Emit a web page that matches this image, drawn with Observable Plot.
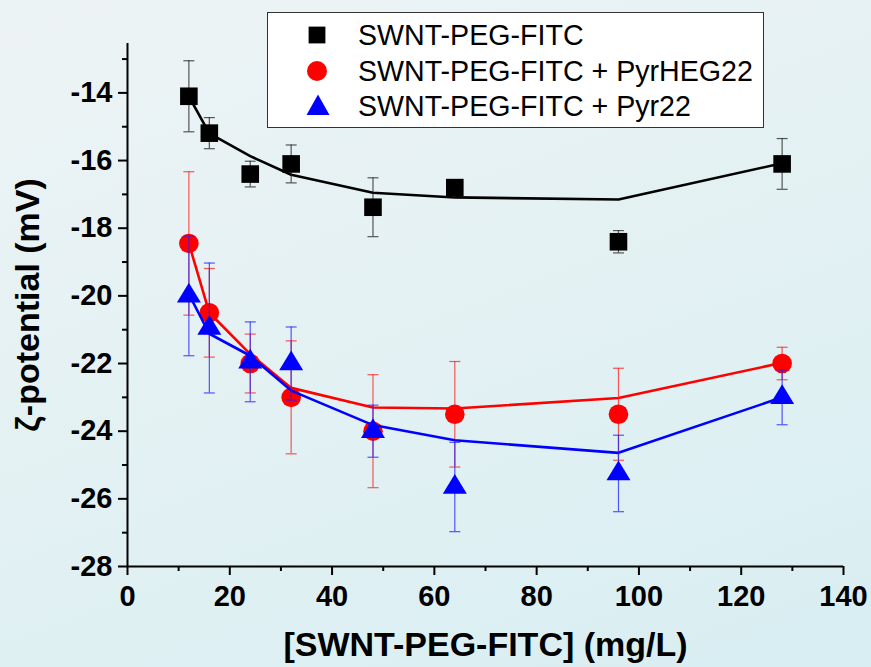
<!DOCTYPE html>
<html>
<head>
<meta charset="utf-8">
<script src="https://cdn.jsdelivr.net/npm/d3@7"></script>
<script src="https://cdn.jsdelivr.net/npm/@observablehq/plot@0.6"></script>
<style>
  html, body { margin: 0; padding: 0; }
  body { width: 871px; height: 667px; overflow: hidden;
    background: linear-gradient(160deg, #edf3f5 0%, #e3f1f3 50%, #d8eef2 100%);
    font-family: "Liberation Sans", Arial, sans-serif; }
  #wrap { position: relative; width: 871px; height: 667px; }
  #legend { position: absolute; left: 267px; top: 12px; width: 495px; height: 114px;
    background: #fff; border: 1px solid #333; box-sizing: content-box; }
  .row { position: absolute; left: 0; height: 36px; }
  .row svg { position: absolute; left: 37px; }
  .row span { position: absolute; left: 90px; white-space: nowrap; font-size: 28.6px; color: #000;
    font-family: "Liberation Sans", Arial, sans-serif; line-height: 36px; top: 0; }
  svg.plot { background: transparent; }
</style>
</head>
<body>
<div id="wrap"></div>
<script>
// ---- data ----
const conc = [12, 16, 24, 32, 48, 64, 96, 128];
const seriesNames = ["SWNT-PEG-FITC", "SWNT-PEG-FITC + PyrHEG22", "SWNT-PEG-FITC + Pyr22"];
const pegVal = [-14.1, -15.19, -16.4, -16.1, -17.38, -16.8, -18.4, -16.1];
const pegErr = [1.05, 0.46, 0.38, 0.56, 0.87, 0.2, 0.33, 0.75];
const pegFit = [-14.1, -15.2, -15.87, -16.42, -16.95, -17.09, -17.15, -16.08];
const hegVal = [-18.45, -20.5, -22.0, -23.0, -24.0, -23.5, -23.5, -22.0];
const hegErr = [2.12, 1.31, 0.87, 1.67, 1.67, 1.56, 1.36, 0.48];
const hegFit = [-18.45, -20.5, -21.72, -22.72, -23.3, -23.33, -23.02, -21.98];
const pyrVal = [-20.0, -20.95, -21.95, -22.0, -24.0, -25.65, -25.25, -23.0];
const pyrErr = [1.77, 1.92, 1.18, 1.08, 0.77, 1.32, 1.13, 0.81];
const pyrFit = [-19.95, -21.12, -21.77, -22.8, -23.82, -24.27, -24.64, -23.0];
const xMajor = [0, 20, 40, 60, 80, 100, 120, 140];
const xMinor = [10, 30, 50, 70, 90, 110, 130];
const yMajor = [-28, -26, -24, -22, -20, -18, -16, -14];
const yMinor = [-27, -25, -23, -21, -19, -17, -15, -13];
const xDomain = [0, 140];
const yDomain = [-28, -12.54];

const colors = ["#000000", "#ff0000", "#0000ff"];
const errColors = ["#222222", "#ff2020", "#2020ff"];

function build(vals, errs, fits) {
  return conc.map((c, i) => ({x: c, y: vals[i], lo: vals[i] - errs[i], hi: vals[i] + errs[i], fit: fits[i]}));
}
const sets = [build(pegVal, pegErr, pegFit), build(hegVal, hegErr, hegFit), build(pyrVal, pyrErr, pyrFit)];

// custom symbols
const capSym = { draw(ctx) { ctx.moveTo(-5.5, 0); ctx.lineTo(5.5, 0); } };
const squareSym = { draw(ctx) { const h = 8.8; ctx.moveTo(-h, -h); ctx.lineTo(h, -h); ctx.lineTo(h, h); ctx.lineTo(-h, h); ctx.closePath(); } };
const circleSym = { draw(ctx) { const r = 9.8; ctx.moveTo(r, 0); ctx.arc(0, 0, r, 0, 2 * Math.PI); } };
const triSym = { draw(ctx) { const w = 12, t = 13, b = 6.7; ctx.moveTo(0, -t); ctx.lineTo(w, b); ctx.lineTo(-w, b); ctx.closePath(); } };
const syms = [squareSym, circleSym, triSym];

const font = {fontFamily: "Liberation Sans, Arial, sans-serif"};

const marks = [];
sets.forEach((d, k) => {
  marks.push(Plot.line(d, {x: "x", y: "fit", stroke: colors[k], strokeWidth: 2.6}));
  marks.push(Plot.ruleX(d, {x: "x", y1: "lo", y2: "hi", stroke: errColors[k], strokeWidth: 1.2, strokeOpacity: 0.75}));
  marks.push(Plot.dot(d, {x: "x", y: "hi", symbol: capSym, stroke: errColors[k], strokeWidth: 1.2, strokeOpacity: 0.75, fill: "none"}));
  marks.push(Plot.dot(d, {x: "x", y: "lo", symbol: capSym, stroke: errColors[k], strokeWidth: 1.2, strokeOpacity: 0.75, fill: "none"}));
  marks.push(Plot.dot(d, {x: "x", y: "y", symbol: syms[k], fill: colors[k], stroke: "none"}));
});

const chart = Plot.plot({
  width: 871,
  height: 667,
  marginLeft: 127,
  marginRight: 28,
  marginTop: 43,
  marginBottom: 101,
  style: {background: "transparent", color: "#000", overflow: "visible"},
  x: {domain: xDomain},
  y: {domain: yDomain},
  marks: [
    Plot.axisX(xMajor, {tickSize: 9, tickPadding: 10, strokeWidth: 2, fontSize: 29, fontWeight: "bold", ...font, tickFormat: d => String(d), label: null}),
    Plot.axisX(xMinor, {tickSize: 5, strokeWidth: 2, tickFormat: () => "", label: null}),
    Plot.axisX([], {tickSize: 0, label: "[SWNT-PEG-FITC] (mg/L)", labelAnchor: "center", labelArrow: "none", labelOffset: 89, fontSize: 34, fontWeight: "bold", ...font}),
    Plot.axisY(yMajor, {tickSize: 9, tickPadding: 6, strokeWidth: 2, fontSize: 29, fontWeight: "bold", ...font, tickFormat: d => String(d), label: null}),
    Plot.axisY(yMinor, {tickSize: 5, strokeWidth: 2, tickFormat: () => "", label: null}),
    Plot.axisY([], {tickSize: 0, label: "ζ-potential (mV)", labelAnchor: "center", labelArrow: "none", labelOffset: 113, fontSize: 34, fontWeight: "bold", ...font}),
    Plot.ruleX([0], {stroke: "#000", strokeWidth: 2}),
    Plot.ruleY([-28], {stroke: "#000", strokeWidth: 2}),
    ...marks
  ]
});
document.getElementById("wrap").appendChild(chart);

// legend (HTML overlay)
const legend = document.createElement("div");
legend.id = "legend";
const rowTops = [4, 40, 75];
const legendSvgs = [
  '<svg width="24" height="24" viewBox="-12 -12 24 24"><rect x="-8.4" y="-8.4" width="16.8" height="16.8" fill="#000"/></svg>',
  '<svg width="24" height="24" viewBox="-12 -12 24 24"><circle r="10" fill="#ff0000"/></svg>',
  '<svg width="26" height="24" viewBox="-13 -12 26 24"><path d="M0,-11.5L11.5,9L-11.5,9Z" fill="#0000ff"/></svg>'
];
seriesNames.forEach((name, i) => {
  const row = document.createElement("div");
  row.className = "row";
  row.style.top = rowTops[i] + "px";
  row.innerHTML = legendSvgs[i] + "<span>" + name + "</span>";
  const s = row.querySelector("svg");
  s.style.top = "6px";
  legend.appendChild(row);
});
document.getElementById("wrap").appendChild(legend);
</script>
</body>
</html>
